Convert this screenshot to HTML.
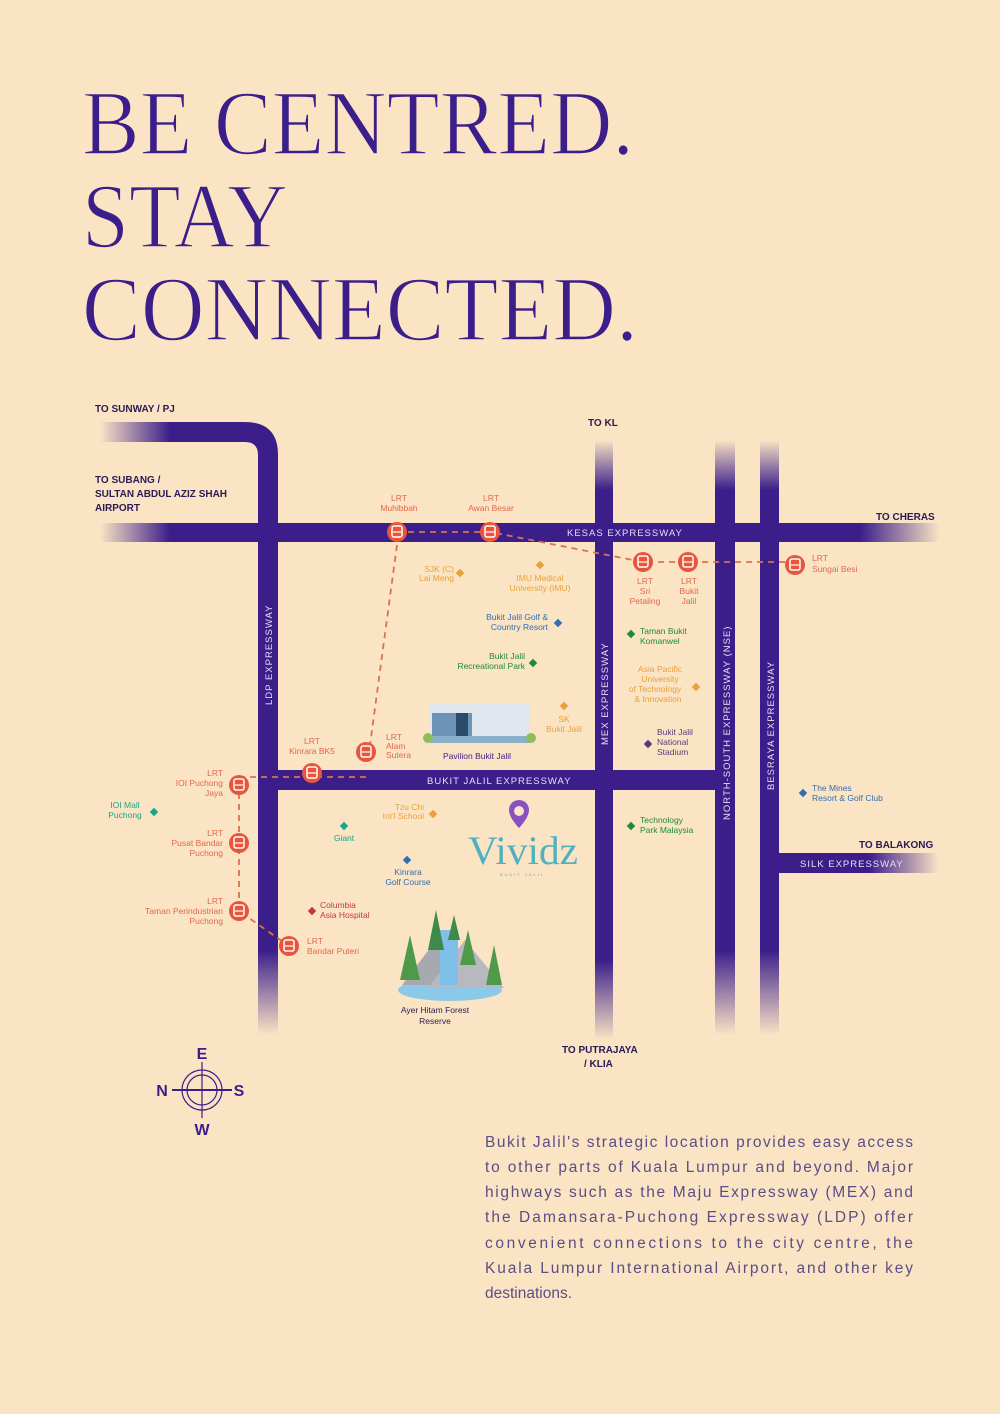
<!DOCTYPE html>
<html><head><meta charset="utf-8"><style>
html,body{margin:0;padding:0;background:#fbe4c4;}
svg{display:block}
</style></head><body>
<svg width="1000" height="1414" viewBox="0 0 1000 1414" xmlns="http://www.w3.org/2000/svg" font-family="Liberation Sans, sans-serif">
<defs>
<linearGradient id="fl" x1="0" x2="1" y1="0" y2="0"><stop offset="0" stop-color="#3b1e8a" stop-opacity="0"/><stop offset="1" stop-color="#3b1e8a"/></linearGradient>
<linearGradient id="fr" x1="0" x2="1" y1="0" y2="0"><stop offset="0" stop-color="#3b1e8a"/><stop offset="1" stop-color="#3b1e8a" stop-opacity="0"/></linearGradient>
<linearGradient id="ft" x1="0" x2="0" y1="0" y2="1"><stop offset="0" stop-color="#3b1e8a" stop-opacity="0"/><stop offset="1" stop-color="#3b1e8a"/></linearGradient>
<linearGradient id="fb" x1="0" x2="0" y1="0" y2="1"><stop offset="0" stop-color="#3b1e8a"/><stop offset="1" stop-color="#3b1e8a" stop-opacity="0"/></linearGradient>
<g id="lrt"><circle r="10" fill="#e8553a"/><rect x="-5" y="-6" width="10" height="11" rx="2" fill="none" stroke="#fff" stroke-width="1.5"/><line x1="-4" y1="0" x2="4" y2="0" stroke="#fff" stroke-width="1.2"/></g>
</defs>
<rect width="1000" height="1414" fill="#fbe4c4"/>

<!-- Title -->
<g fill="#3b1e8a" stroke="#fbe4c4" stroke-width="1.6" font-family="Liberation Serif, serif" font-size="92">
<text x="82" y="154" textLength="552" lengthAdjust="spacingAndGlyphs">BE CENTRED.</text>
<text x="82" y="247" textLength="206" lengthAdjust="spacingAndGlyphs">STAY</text>
<text x="82" y="340" textLength="556" lengthAdjust="spacingAndGlyphs">CONNECTED.</text>
</g>

<!-- Roads -->
<g>
<rect x="100" y="422" width="70" height="20" fill="url(#fl)"/>
<path d="M170 422 H245 Q278 422 278 455 V950 H258 V455 Q258 442 245 442 H170 Z" fill="#3b1e8a"/>
<rect x="258" y="950" width="20" height="85" fill="url(#fb)"/>
<rect x="100" y="523" width="70" height="19" fill="url(#fl)"/>
<rect x="170" y="523" width="690" height="19" fill="#3b1e8a"/>
<rect x="860" y="523" width="80" height="19" fill="url(#fr)"/>
<rect x="595" y="440" width="18" height="50" fill="url(#ft)"/>
<rect x="595" y="490" width="18" height="470" fill="#3b1e8a"/>
<rect x="595" y="960" width="18" height="80" fill="url(#fb)"/>
<rect x="715" y="440" width="20" height="50" fill="url(#ft)"/>
<rect x="715" y="490" width="20" height="460" fill="#3b1e8a"/>
<rect x="715" y="950" width="20" height="85" fill="url(#fb)"/>
<rect x="760" y="440" width="19" height="50" fill="url(#ft)"/>
<rect x="760" y="490" width="19" height="460" fill="#3b1e8a"/>
<rect x="760" y="950" width="19" height="85" fill="url(#fb)"/>
<rect x="258" y="770" width="477" height="20" fill="#3b1e8a"/>
<rect x="779" y="853" width="90" height="20" fill="#3b1e8a"/>
<rect x="869" y="853" width="70" height="20" fill="url(#fr)"/>
</g>

<!-- road labels -->
<g fill="#e9ddf5" font-size="9.5" letter-spacing="1">
<text x="567" y="536">KESAS EXPRESSWAY</text>
<text x="427" y="784">BUKIT JALIL EXPRESSWAY</text>
<text x="800" y="867">SILK EXPRESSWAY</text>
<text transform="translate(272,705) rotate(-90)">LDP EXPRESSWAY</text>
<text transform="translate(608,745) rotate(-90)">MEX EXPRESSWAY</text>
<text transform="translate(730,820) rotate(-90)">NORTH-SOUTH EXPRESSWAY (NSE)</text>
<text transform="translate(774,790) rotate(-90)">BESRAYA EXPRESSWAY</text>
</g>
<g fill="#2a1a55" font-size="10" font-weight="bold">
<text x="95" y="412">TO SUNWAY / PJ</text>
<text x="95" y="483">TO SUBANG /</text>
<text x="95" y="497">SULTAN ABDUL AZIZ SHAH</text>
<text x="95" y="511">AIRPORT</text>
<text x="588" y="426">TO KL</text>
<text x="876" y="520">TO CHERAS</text>
<text x="859" y="848">TO BALAKONG</text>
<text x="562" y="1053">TO PUTRAJAYA</text>
<text x="584" y="1067">/ KLIA</text>
</g>

<!-- LRT dashed lines -->
<g stroke="#d9714f" stroke-width="1.8" stroke-dasharray="6 5" fill="none">
<path d="M397 532 H490 L643 562 H795"/>
<path d="M397 545 L370 745"/>
<path d="M366 777 H239 V911 L289 946"/>
</g>
<use href="#lrt" x="397" y="532"/><use href="#lrt" x="490" y="532"/>
<use href="#lrt" x="643" y="562"/><use href="#lrt" x="688" y="562"/><use href="#lrt" x="795" y="565"/>
<use href="#lrt" x="366" y="752"/><use href="#lrt" x="312" y="773"/>
<use href="#lrt" x="239" y="785"/><use href="#lrt" x="239" y="843"/><use href="#lrt" x="239" y="911"/><use href="#lrt" x="289" y="946"/>

<g fill="#e0684a" font-size="8.5">
<text x="399" y="501" text-anchor="middle">LRT</text><text x="399" y="511" text-anchor="middle">Muhibbah</text>
<text x="491" y="501" text-anchor="middle">LRT</text><text x="491" y="511" text-anchor="middle">Awan Besar</text>
<text x="645" y="584" text-anchor="middle">LRT</text><text x="645" y="594" text-anchor="middle">Sri</text><text x="645" y="604" text-anchor="middle">Petaling</text>
<text x="689" y="584" text-anchor="middle">LRT</text><text x="689" y="594" text-anchor="middle">Bukit</text><text x="689" y="604" text-anchor="middle">Jalil</text>
<text x="812" y="561">LRT</text><text x="812" y="572">Sungai Besi</text>
<text x="386" y="740">LRT</text><text x="386" y="749">Alam</text><text x="386" y="758">Sutera</text>
<text x="312" y="744" text-anchor="middle">LRT</text><text x="312" y="754" text-anchor="middle">Kinrara BK5</text>
<text x="223" y="776" text-anchor="end">LRT</text><text x="223" y="786" text-anchor="end">IOI Puchong</text><text x="223" y="796" text-anchor="end">Jaya</text>
<text x="223" y="836" text-anchor="end">LRT</text><text x="223" y="846" text-anchor="end">Pusat Bandar</text><text x="223" y="856" text-anchor="end">Puchong</text>
<text x="223" y="904" text-anchor="end">LRT</text><text x="223" y="914" text-anchor="end">Taman Perindustrian</text><text x="223" y="924" text-anchor="end">Puchong</text>
<text x="307" y="944">LRT</text><text x="307" y="954">Bandar Puteri</text>
</g>

<!-- POIs -->
<g font-size="8.5">
<g fill="#e8a03a"><text x="454" y="572" text-anchor="end">SJK (C)</text><text x="454" y="581" text-anchor="end">Lai Meng</text><rect x="457" y="570" width="6" height="6" transform="rotate(45 460 573)"/>
<text x="540" y="581" text-anchor="middle">IMU Medical</text><text x="540" y="591" text-anchor="middle">University (IMU)</text><rect x="537" y="562" width="6" height="6" transform="rotate(45 540 565)"/>
<text x="564" y="722" text-anchor="middle">SK</text><text x="564" y="732" text-anchor="middle">Bukit Jalil</text><rect x="561" y="703" width="6" height="6" transform="rotate(45 564 706)"/>
<text x="660" y="672" text-anchor="middle">Asia Pacific</text><text x="660" y="682" text-anchor="middle">University</text><text x="655" y="692" text-anchor="middle">of Technology</text><text x="658" y="702" text-anchor="middle">&amp; Innovation</text><rect x="693" y="684" width="6" height="6" transform="rotate(45 696 687)"/>
<text x="424" y="810" text-anchor="end">Tzu Chi</text><text x="424" y="819" text-anchor="end">Int'l School</text><rect x="430" y="811" width="6" height="6" transform="rotate(45 433 814)"/></g>
<g fill="#2f6fb0"><text x="548" y="620" text-anchor="end">Bukit Jalil Golf &amp;</text><text x="548" y="630" text-anchor="end">Country Resort</text><rect x="555" y="620" width="6" height="6" transform="rotate(45 558 623)"/>
<text x="408" y="875" text-anchor="middle">Kinrara</text><text x="408" y="885" text-anchor="middle">Golf Course</text><rect x="404" y="857" width="6" height="6" transform="rotate(45 407 860)"/>
<text x="812" y="791">The Mines</text><text x="812" y="801">Resort &amp; Golf Club</text><rect x="800" y="790" width="6" height="6" transform="rotate(45 803 793)"/></g>
<g fill="#1f8a3a"><text x="525" y="659" text-anchor="end">Bukit Jalil</text><text x="525" y="669" text-anchor="end">Recreational Park</text><rect x="530" y="660" width="6" height="6" transform="rotate(45 533 663)"/>
<text x="640" y="634">Taman Bukit</text><text x="640" y="644">Komanwel</text><rect x="628" y="631" width="6" height="6" transform="rotate(45 631 634)"/>
<text x="640" y="823">Technology</text><text x="640" y="833">Park Malaysia</text><rect x="628" y="823" width="6" height="6" transform="rotate(45 631 826)"/></g>
<g fill="#1aa58a"><text x="125" y="808" text-anchor="middle">IOI Mall</text><text x="125" y="818" text-anchor="middle">Puchong</text><rect x="151" y="809" width="6" height="6" transform="rotate(45 154 812)"/>
<text x="344" y="841" text-anchor="middle">Giant</text><rect x="341" y="823" width="6" height="6" transform="rotate(45 344 826)"/></g>
<g fill="#5a3a7a"><text x="657" y="735">Bukit Jalil</text><text x="657" y="745">National</text><text x="657" y="755">Stadium</text><rect x="645" y="741" width="6" height="6" transform="rotate(45 648 744)"/></g>
<g fill="#c0384a"><text x="320" y="908">Columbia</text><text x="320" y="918">Asia Hospital</text><rect x="309" y="908" width="6" height="6" transform="rotate(45 312 911)"/></g>
</g>

<!-- Pavilion building -->
<g>
<rect x="430" y="703" width="100" height="40" fill="#dfe6ee"/>
<rect x="432" y="713" width="40" height="26" fill="#6c94b8"/>
<rect x="456" y="713" width="12" height="26" fill="#2c4a6a"/>
<rect x="430" y="736" width="100" height="7" fill="#8ab0cc"/>
<circle cx="428" cy="738" r="5" fill="#8cbf5a"/><circle cx="531" cy="738" r="5" fill="#8cbf5a"/>
<text x="477" y="759" text-anchor="middle" font-size="8.5" fill="#3b1e8a">Pavilion Bukit Jalil</text>
</g>

<!-- Vividz logo -->
<g>
<path d="M519 800 a10 10 0 0 1 10 10 c0 8 -10 18 -10 18 c0 0 -10 -10 -10 -18 a10 10 0 0 1 10 -10z" fill="#8a4fc0"/>
<circle cx="519" cy="811" r="5" fill="#fbe4c4"/>
<text x="468" y="864" font-family="Liberation Serif, serif" font-size="40" fill="#4fb1c0" textLength="110" lengthAdjust="spacingAndGlyphs">Vividz</text>
<text x="500" y="876" font-size="4" fill="#4fb1c0" letter-spacing="2">BUKIT JALIL</text>
</g>

<!-- Forest -->
<g>
<ellipse cx="450" cy="990" rx="52" ry="11" fill="#8cc8e8"/>
<polygon points="402,985 440,935 482,985" fill="#a8a8b0"/>
<polygon points="428,988 465,940 504,988" fill="#b8b8c0"/>
<rect x="440" y="930" width="18" height="55" fill="#7ec0e8"/>
<polygon points="436,910 428,950 444,950" fill="#3e8a4a"/>
<polygon points="410,935 400,980 420,980" fill="#4e9a4a"/>
<polygon points="494,945 486,985 502,985" fill="#4e9a4a"/>
<polygon points="468,930 460,965 476,965" fill="#4e9a4a"/>
<polygon points="454,915 448,940 460,940" fill="#3e8a4a"/>
<text x="435" y="1013" text-anchor="middle" font-size="8.5" fill="#2a1a55">Ayer Hitam Forest</text>
<text x="435" y="1024" text-anchor="middle" font-size="8.5" fill="#2a1a55">Reserve</text>
</g>

<!-- Compass -->
<g stroke="#3b1e8a" fill="none" stroke-width="1.2">
<circle cx="202" cy="1090" r="20"/><circle cx="202" cy="1090" r="15"/>
<line x1="172" y1="1090" x2="232" y2="1090" stroke-width="2"/>
<line x1="202" y1="1062" x2="202" y2="1118"/>
</g>
<g fill="#3b1e8a" font-size="16" font-weight="bold" text-anchor="middle">
<text x="202" y="1059">E</text><text x="202" y="1135">W</text><text x="162" y="1096">N</text><text x="239" y="1096">S</text>
</g>

<!-- Body text -->
<g fill="#5b4d86" font-size="15.5">
<text x="485" y="1147" textLength="428" lengthAdjust="spacing">Bukit Jalil's strategic location provides easy access</text>
<text x="485" y="1172" textLength="428" lengthAdjust="spacing">to other parts of Kuala Lumpur and beyond. Major</text>
<text x="485" y="1197" textLength="428" lengthAdjust="spacing">highways such as the Maju Expressway (MEX) and</text>
<text x="485" y="1222" textLength="428" lengthAdjust="spacing">the Damansara-Puchong Expressway (LDP) offer</text>
<text x="485" y="1248" textLength="428" lengthAdjust="spacing">convenient connections to the city centre, the</text>
<text x="485" y="1273" textLength="428" lengthAdjust="spacing">Kuala Lumpur International Airport, and other key</text>
<text x="485" y="1298">destinations.</text>
</g>
</svg>
</body></html>
